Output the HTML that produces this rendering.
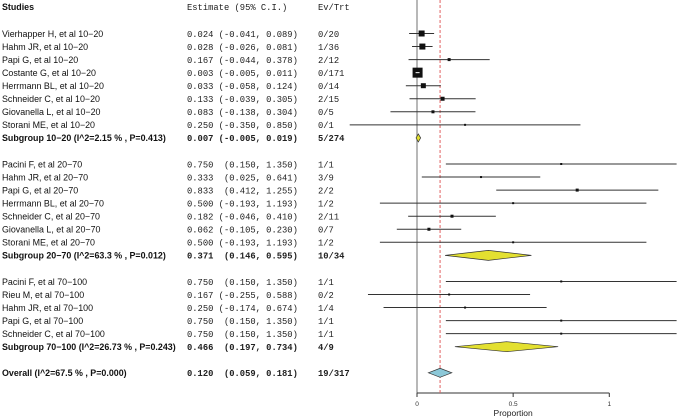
<!DOCTYPE html>
<html><head><meta charset="utf-8"><style>
html,body{margin:0;padding:0;background:#fff;}
svg{display:block;}
.s{font-family:"Liberation Sans",sans-serif;font-size:8.9px;fill:#111;}
.m{font-family:"Liberation Mono",monospace;font-size:8.8px;fill:#222;white-space:pre;}
.b{font-weight:bold;}
</style></head><body>
<svg id="c" width="677" height="419" viewBox="0 0 677 419">
<text class="s b" x="2" y="10">Studies</text>
<text class="m" x="187" y="10" xml:space="preserve">Estimate (95% C.I.)</text>
<text class="m" x="318" y="10">Ev/Trt</text>
</svg>
<script>
const labels=["Vierhapper H, et al 10−20","Hahm JR, et al 10−20","Papi G, et al 10−20","Costante G, et al 10−20","Herrmann BL, et al 10−20","Schneider C, et al 10−20","Giovanella L, et al 10−20","Storani ME, et al 10−20","Subgroup 10−20 (I^2=2.15 % , P=0.413)",
"Pacini F, et al 20−70","Hahm JR, et al 20−70","Papi G, et al 20−70","Herrmann BL, et al 20−70","Schneider C, et al 20−70","Giovanella L, et al 20−70","Storani ME, et al 20−70","Subgroup 20−70 (I^2=63.3 % , P=0.012)",
"Pacini F, et al  70−100","Rieu M, et al  70−100","Hahm JR, et al  70−100","Papi G, et al  70−100","Schneider C, et al 70−100","Subgroup 70−100 (I^2=26.73 % , P=0.243)",
"Overall (I^2=67.5 % , P=0.000)"];
const rowIdx=[0,1,2,3,4,5,6,7,8,10,11,12,13,14,15,16,17,19,20,21,22,23,24,26];
const est=[0.024,0.028,0.167,0.003,0.033,0.133,0.083,0.250,0.007,0.750,0.333,0.833,0.500,0.182,0.062,0.500,0.371,0.750,0.167,0.250,0.750,0.750,0.466,0.120];
const lo=[-0.041,-0.026,-0.044,-0.005,-0.058,-0.039,-0.138,-0.350,-0.005,0.150,0.025,0.412,-0.193,-0.046,-0.105,-0.193,0.146,0.150,-0.255,-0.174,0.150,0.150,0.197,0.059];
const hi=[0.089,0.081,0.378,0.011,0.124,0.305,0.304,0.850,0.019,1.350,0.641,1.255,1.193,0.410,0.230,1.193,0.595,1.350,0.588,0.674,1.350,1.350,0.734,0.181];
const evtrt=["0/20","1/36","2/12","0/171","0/14","2/15","0/5","0/1","5/274","1/1","3/9","2/2","1/2","2/11","0/7","1/2","10/34","1/1","0/2","1/4","1/1","1/1","4/9","19/317"];
const kind=["s","s","s","s","s","s","s","s","d","s","s","s","s","s","s","s","d","s","s","s","s","s","d","o"];
const boxSize=[6,6,3,10,5,4,3,2,0,2,2,3,2,3,3,2,0,2,2,2,2,2,0,0];
const xTicks=[0,0.5,1];
const refValue=0.120;

const NS="http://www.w3.org/2000/svg";
const svg=document.getElementById('c');
const X=v=>417+v*192.3;
const Y=i=>33.5+13.05*i;
function mk(t,a){const e=document.createElementNS(NS,t);for(const k in a)e.setAttribute(k,a[k]);svg.appendChild(e);return e;}
function f3(v){return (v<0?"-":"")+Math.abs(v).toFixed(3);}

const va=mk('line',{x1:417,y1:0,x2:417,y2:393,stroke:'#888','stroke-width':1.2});


const ax=mk('line',{x1:X(0),y1:393,x2:X(1),y2:393,stroke:'#333','stroke-width':1});


xTicks.forEach(t=>{
  const tk=mk('line',{x1:X(t),y1:393,x2:X(t),y2:397,stroke:'#333'});
  
  
  const tl=mk('text',{x:X(t),y:406,'text-anchor':'middle','font-family':'Liberation Sans,sans-serif','font-size':'6.5px',fill:'#333'});
  tl.textContent=String(t);
  
  
});
const xt=mk('text',{x:X(0.5),y:416,'text-anchor':'middle','font-family':'Liberation Sans,sans-serif','font-size':'8.5px',fill:'#222'});
xt.textContent="Proportion";


const rl=mk('line',{x1:X(refValue),y1:0,x2:X(refValue),y2:393,stroke:'#e06060','stroke-width':1,'stroke-dasharray':'3,2'});



labels.forEach((lab,k)=>{
  const y=Y(rowIdx[k]);
  const bold=kind[k]!=="s";
  const t1=mk('text',{x:2,y:y+3.3,class:'s'+(bold?' b':'')});
  t1.textContent=lab;
  
  
  const t2=mk('text',{x:187,y:y+3.3,class:'m'+(bold?' b':''),'xml:space':'preserve'});
  t2.textContent=f3(est[k])+(lo[k]<0?" (":"  (")+f3(lo[k])+", "+f3(hi[k])+")";
  
  
  const t3=mk('text',{x:318,y:y+3.3,class:'m'+(bold?' b':'')});
  t3.textContent=evtrt[k];
  
  
  if(kind[k]==="s"){
    const l=mk('line',{x1:Math.max(X(lo[k]),340),y1:y,x2:Math.min(X(hi[k]),677),y2:y,stroke:'#333','stroke-width':1});
    
    
    const s=boxSize[k];
    const r=mk('rect',{x:X(est[k])-s/2,y:y-s/2,width:s,height:s,fill:'#111'});
    
    
    if(s>=8){const w=mk('line',{x1:X(est[k])-2,y1:y,x2:X(est[k])+2,y2:y,stroke:'#fff'});}
  }else{
    const h=kind[k]==="o"?4.5:(hi[k]-lo[k]<0.05?4:5);
    const p=mk('polygon',{points:`${X(lo[k])},${y} ${X(est[k])},${y-h} ${X(hi[k])},${y} ${X(est[k])},${y+h}`,fill:kind[k]==="o"?'#8cc8d8':'#e3e030',stroke:'#333','stroke-width':0.7});
    
    
  }
});
</script>
</body></html>
